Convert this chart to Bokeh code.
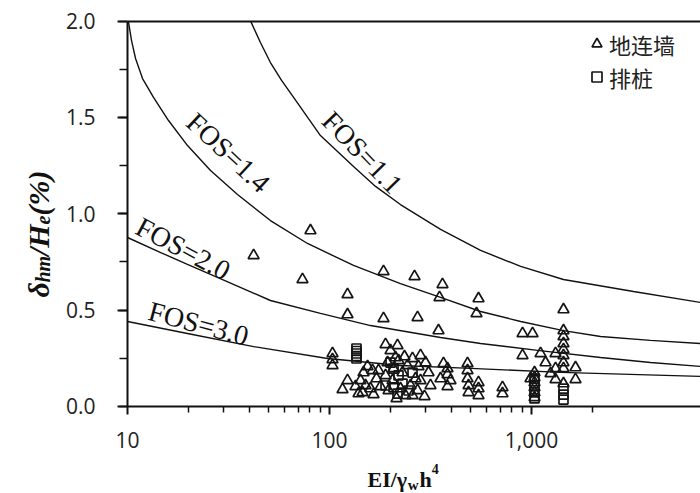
from bokeh.plotting import figure
from bokeh.models import (Range1d, FixedTicker, NumeralTickFormatter, SingleIntervalTicker,
                          Label, Legend, LegendItem, LogAxis, LinearAxis)
from bokeh.embed import file_html
from bokeh.resources import INLINE

# ---------------- data ----------------
fos11_x = [40.7, 45.5, 51, 57.9, 66.4, 90.2, 131.5, 169.0, 224.5, 354.6, 559.7, 883.9, 1439, 3199, 6870]
fos11_y = [2.0, 1.889, 1.785, 1.692, 1.604, 1.406, 1.245, 1.142, 1.048, 0.919, 0.810, 0.727, 0.659, 0.597, 0.540]

fos14_x = [10.1, 10.47, 10.96, 11.87, 13.45, 15.96, 19.82, 25.76, 35.04, 51.0, 77.8, 131.5, 224.5, 354.6, 559.7,
           884, 1439, 2197, 3882, 6870]
fos14_y = [2.0, 1.899, 1.806, 1.702, 1.604, 1.484, 1.354, 1.225, 1.100, 0.965, 0.846, 0.732, 0.638, 0.566, 0.493,
           0.441, 0.394, 0.363, 0.343, 0.327]

fos20_x = [10, 14.6, 19.8, 28.8, 51.0, 90.2, 159.6, 354.6, 560, 1072, 2197, 3882, 6870]
fos20_y = [0.877, 0.799, 0.737, 0.664, 0.550, 0.483, 0.420, 0.358, 0.327, 0.291, 0.254, 0.228, 0.208]

fos30_x = [10, 19.8, 42.1, 97.8, 224.5, 499, 1393, 6870]
fos30_y = [0.441, 0.379, 0.311, 0.249, 0.213, 0.198, 0.177, 0.156]

# 地连墙 (diaphragm walls)
wall_x = [42.1, 80.5, 73.5, 122.8, 122.8, 185.1, 185.1, 263.6, 272.8, 362.6, 350.4, 346.4, 546.7, 534.4, 1440, 903, 1012,
          103.5, 103.5, 103.5, 122.8, 116.0,
          147.4, 154.3, 163.3, 142.4, 150.8, 159.6, 145.7, 170.9, 178.9, 165.2, 134.5, 139.2, 174.9,
          189.4, 217.1, 200.5, 235.1, 212.2,
          193.8, 207.5, 219.6, 229.8, 243.3, 257.6, 266.6, 251.8, 224.6, 205.1, 196.0, 237.8, 272.8, 282.3, 298.8,
          309.2, 282.3, 295.4, 275.9, 214.7, 189.4, 257.6, 316.2,
          366.8, 383.9, 383.9, 383.9, 354.4, 397.2,
          482.3, 482.3, 482.3, 487.8, 487.8,
          546.7, 546.7, 546.7, 718.5, 718.5,
          902.8, 1108.7, 1315.2, 1173.5, 1651.6,
          1440, 1440, 1440, 1440, 1440, 1440, 1440, 1440,
          1315.2, 1315.2, 1651.6, 1242.4,
          1034.9, 1034.9, 1034.9, 1034.9, 1034.9, 1034.9, 988.5]
wall_y = [0.784, 0.913, 0.659, 0.581, 0.477, 0.701, 0.457, 0.675, 0.462, 0.633, 0.566, 0.394, 0.560, 0.483, 0.503, 0.379, 0.379,
          0.275, 0.244, 0.213, 0.135, 0.088,
          0.176, 0.208, 0.187, 0.135, 0.109, 0.093, 0.073, 0.145, 0.104, 0.062, 0.104, 0.067, 0.187,
          0.322, 0.317, 0.291, 0.259, 0.254,
          0.228, 0.197, 0.239, 0.176, 0.213, 0.249, 0.145, 0.109, 0.093, 0.135, 0.083, 0.057, 0.083, 0.265, 0.228,
          0.176, 0.135, 0.052, 0.208, 0.042, 0.161, 0.057, 0.109,
          0.223, 0.197, 0.166, 0.104, 0.145, 0.135,
          0.223, 0.187, 0.145, 0.109, 0.073,
          0.125, 0.093, 0.057, 0.099, 0.067,
          0.265, 0.275, 0.275, 0.228, 0.202,
          0.394, 0.363, 0.327, 0.296, 0.265, 0.228, 0.197, 0.119,
          0.197, 0.140, 0.140, 0.171,
          0.176, 0.150, 0.125, 0.099, 0.073, 0.047, 0.145]

# 排桩 (bored piles)
pile_x = [136.0, 136.0, 136.0, 136.0, 136.0,
          200.5, 207.5, 219.6, 229.8, 207.5, 217.1, 246.1, 189.4, 257.6,
          1034.9, 1034.9, 1034.9, 1034.9, 1440, 1440, 1440]
pile_y = [0.301, 0.288, 0.275, 0.262, 0.249,
          0.228, 0.197, 0.161, 0.119, 0.099, 0.067, 0.083, 0.109, 0.176,
          0.145, 0.109, 0.073, 0.042, 0.093, 0.062, 0.036]

x_major = [10, 100, 1000]
x_minor = [20, 30, 40, 50, 60, 70, 80, 90, 200, 300, 400, 500, 600, 700, 800, 900, 2000]

X_MIN, X_MAX = 10, 6865     # data extent of the plot area
Y_MIN, Y_MAX = 0.0, 2.0

# ---------------- figure ----------------
# the frame covers the whole canvas; axes are pinned at the data edges
p = figure(width=700, height=493, x_axis_type="log",
           x_range=Range1d(2.351, 6865), y_range=Range1d(-0.4515, 2.1069),
           x_axis_location=None, y_axis_location=None,
           output_backend="svg", toolbar_location=None,
           min_border_left=0, min_border_right=0, min_border_top=0, min_border_bottom=0)
p.outline_line_color = None
p.grid.visible = False
p.background_fill_color = "white"
p.border_fill_color = "white"

ink = "#111111"
for xs, ys in [(fos11_x, fos11_y), (fos14_x, fos14_y), (fos20_x, fos20_y), (fos30_x, fos30_y)]:
    p.line(xs, ys, line_color=ink, line_width=1.4)

tri = p.scatter(wall_x, wall_y, marker="triangle", size=11, fill_color=None,
                line_color="#151515", line_width=1.7)
sq = p.scatter(pile_x, pile_y, marker="square", size=9, fill_color=None,
               line_color="#151515", line_width=1.7)

def style(ax):
    ax.axis_line_width = 2
    ax.axis_line_color = ink
    ax.major_tick_line_color = ink
    ax.minor_tick_line_color = ink
    ax.major_tick_line_width = 2
    ax.minor_tick_line_width = 1.5
    ax.major_tick_in = 0
    ax.minor_tick_in = 0
    ax.major_label_text_font = "Open Sans"
    ax.major_label_text_font_size = "21px"
    ax.major_label_text_color = "#222222"

xax = LogAxis(fixed_location=Y_MIN, bounds=(X_MIN, X_MAX),
              ticker=FixedTicker(ticks=x_major, minor_ticks=x_minor),
              formatter=NumeralTickFormatter(format="0,0"))
style(xax)
xax.major_tick_out = 8
xax.minor_tick_out = 6
xax.major_label_standoff = 18
p.add_layout(xax, "below")

yax = LinearAxis(fixed_location=X_MIN, bounds=(Y_MIN, Y_MAX),
                 ticker=SingleIntervalTicker(interval=0.5, num_minor_ticks=2),
                 formatter=NumeralTickFormatter(format="0.0"))
style(yax)
yax.major_tick_out = 10
yax.minor_tick_out = 8
yax.major_label_standoff = 22
p.add_layout(yax, "left")

# top frame line
topax = LogAxis(fixed_location=Y_MAX, bounds=(X_MIN, X_MAX), ticker=FixedTicker(ticks=[]))
topax.axis_line_width = 2
topax.axis_line_color = ink
topax.major_label_text_font_size = "0px"
p.add_layout(topax, "above")

# curve labels
serif = "Liberation Serif"
for txt, x, y, ang in [("FOS=1.1", 145.6, 1.318, -46), ("FOS=1.4", 31.6, 1.318, -43),
                       ("FOS=2.0", 18.9, 0.820, -28), ("FOS=3.0", 22.5, 0.431, -15)]:
    p.add_layout(Label(x=x, y=y, text=txt, angle=ang, angle_units="deg",
                       text_align="center", text_baseline="middle",
                       text_font=serif, text_font_size="28px", text_color=ink))

# x axis label: EI/γ_w h^4
def xl(txt, x, y, size):
    p.add_layout(Label(x=x, y=y, text=txt, text_align="left", text_baseline="alphabetic",
                       text_font=serif, text_font_style="bold", text_font_size=size, text_color=ink))
xl("EI/γ", 154.2, -0.3788, "22px")
xl("w", 244.0, -0.4048, "15px")
xl("h", 279.0, -0.3788, "22px")
xl("4", 321.0, -0.3269, "14px")

# y axis label: δ_hm / H_e (%)
def yl(txt, x, y, size):
    p.add_layout(Label(x=x, y=y, text=txt, angle=90, angle_units="deg",
                       text_align="left", text_baseline="alphabetic",
                       text_font=serif, text_font_style="bold italic", text_font_size=size, text_color=ink))
yl("δ", 3.62, 0.566, "30px")
yl("hm", 3.83, 0.643, "20px")
yl("/H", 3.62, 0.781, "30px")
yl("e", 3.83, 0.944, "20px")
yl("(%)", 3.62, 0.991, "30px")

legend = Legend(items=[LegendItem(label="地连墙", renderers=[tri]),
                       LegendItem(label="排桩", renderers=[sq])],
                location=(584, 400), border_line_color=None, background_fill_alpha=0,
                label_text_font="Noto Sans CJK SC", label_text_font_size="22px",
                label_text_color="#222222",
                glyph_width=25, glyph_height=33, label_height=33, label_width=80,
                label_standoff=0, spacing=-3, padding=3, margin=0)
p.add_layout(legend)

open("out.html", "w").write(file_html(p, INLINE))
